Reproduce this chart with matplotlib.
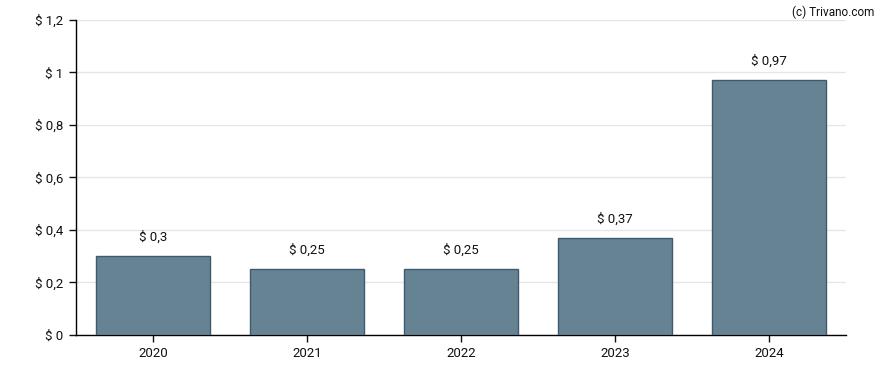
import matplotlib.pyplot as plt
from matplotlib.ticker import FuncFormatter

plt.rcParams['font.family'] = ['Roboto', 'DejaVu Sans']

years = ['2020', '2021', '2022', '2023', '2024']
dividends = [0.3, 0.25, 0.25, 0.37, 0.97]
yticks = [0, 0.2, 0.4, 0.6, 0.8, 1.0, 1.2]


def euro_fmt(v):
    s = f'{v:.2f}'.rstrip('0').rstrip('.')
    return '$ ' + s.replace('.', ',')


fig = plt.figure(figsize=(8.88, 3.70), dpi=100)
ax = fig.add_axes([0.0856, 0.0946, 0.8671, 0.8514])

x = list(range(len(years)))
ax.bar(x, dividends, width=0.74, color='#668394', edgecolor='#3f5a6e', linewidth=1, zorder=3)

for xi, v in zip(x, dividends):
    ax.annotate(euro_fmt(v), (xi, v), xytext=(0, 9), textcoords='offset points',
                ha='center', va='bottom', fontsize=9.5, color='#111111')

ax.set_xlim(-0.5, len(years) - 0.5)
ax.set_ylim(0, 1.2)
ax.set_xticks(x)
ax.set_xticklabels(years)
ax.set_yticks(yticks)
ax.yaxis.set_major_formatter(FuncFormatter(lambda v, p: euro_fmt(v)))
ax.grid(axis='y', color='#e6e6e6', linewidth=1, zorder=0)
ax.tick_params(axis='both', labelsize=9.5, colors='#111111', length=5, width=1)
ax.tick_params(axis='y', pad=4)
for s in ['top', 'right']:
    ax.spines[s].set_visible(False)
for s in ['left', 'bottom']:
    ax.spines[s].set_color('black')
    ax.spines[s].set_linewidth(1)

fig.text(0.985, 0.985, '(c) Trivano.com', ha='right', va='top', fontsize=8.5, color='#111111')

fig.savefig('out.png', dpi=100)
